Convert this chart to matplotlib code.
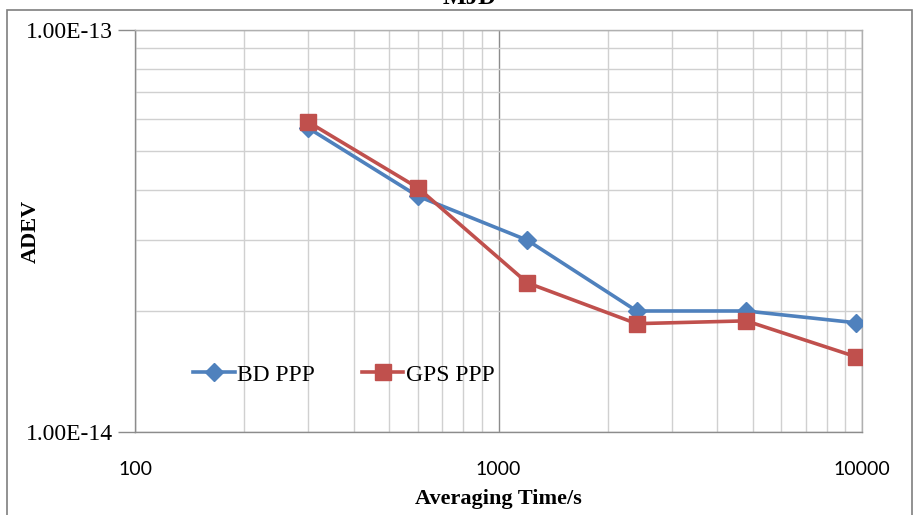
import matplotlib
matplotlib.use("Agg")
import matplotlib.pyplot as plt
from matplotlib.ticker import LogLocator, NullFormatter, FixedLocator
from matplotlib.patches import Rectangle

tau = [300, 600, 1200, 2400, 4800, 9600]
bd_ppp = [5.7e-14, 3.86e-14, 3.0e-14, 2.0e-14, 2.0e-14, 1.87e-14]
gps_ppp = [5.9e-14, 4.05e-14, 2.35e-14, 1.86e-14, 1.89e-14, 1.54e-14]
x_ticks = [100, 1000, 10000]
x_tick_labels = ["100", "1000", "10000"]
y_ticks = [1e-14, 1e-13]
y_tick_labels = ["1.00E-14", "1.00E-13"]

serif = ["Liberation Serif", "DejaVu Serif"]

fig = plt.figure(figsize=(9.16, 5.15), dpi=100)
ax = fig.add_axes([135/916, 1-432/515, (862-135)/916, (432-30)/515])

ax.set_xscale("log")
ax.set_yscale("log")
ax.set_xlim(100, 10000)
ax.set_ylim(1e-14, 1e-13)

# grid
ax.xaxis.set_major_locator(FixedLocator(x_ticks))
ax.xaxis.set_minor_locator(LogLocator(base=10, subs=range(2, 10), numticks=20))
ax.yaxis.set_major_locator(FixedLocator(y_ticks))
ax.yaxis.set_minor_locator(LogLocator(base=10, subs=range(2, 10), numticks=20))
ax.xaxis.set_minor_formatter(NullFormatter())
ax.yaxis.set_minor_formatter(NullFormatter())
ax.grid(True, which="minor", color="#D0D0D0", linewidth=1.0)
ax.grid(True, which="major", axis="x", color="#8C8C8C", linewidth=1.0)
ax.grid(True, which="major", axis="y", color="#B0B0B0", linewidth=1.0)
ax.set_axisbelow(True)

ax.set_xticks(x_ticks)
ax.set_xticklabels(x_tick_labels, family=["Lato", "DejaVu Sans"], fontsize=14)
ax.set_yticks(y_ticks)
ax.set_yticklabels(y_tick_labels, family=serif, fontsize=17)
ax.tick_params(axis="x", which="both", length=0, pad=21)
ax.tick_params(axis="y", which="major", length=12, width=1, color="#8C8C8C", pad=4, direction="out")
ax.tick_params(axis="y", which="minor", length=0)

for s in ["left", "bottom", "top", "right"]:
    ax.spines[s].set_color("#8C8C8C")
    ax.spines[s].set_linewidth(1.0)
ax.spines["top"].set_color("#B0B0B0")
ax.spines["right"].set_color("#B0B0B0")

ax.plot(tau, bd_ppp, color="#4F81BD", linewidth=2.6, marker="D", markersize=9,
        markerfacecolor="#4F81BD", markeredgecolor="#4F81BD", label="BD PPP", zorder=3)
ax.plot(tau, gps_ppp, color="#C0504D", linewidth=2.6, marker="s", markersize=11,
        markerfacecolor="#C0504D", markeredgecolor="#C0504D", label="GPS PPP", zorder=4)

ax.set_xlabel("Averaging Time/s", family=serif, fontsize=16, fontweight="bold")
ax.set_ylabel("ADEV", family=serif, fontsize=16, fontweight="bold")
ax.yaxis.set_label_coords(-0.129, 0.5)
ax.xaxis.set_label_coords(0.5, -0.142)

leg = ax.legend(loc="center left", bbox_to_anchor=(0.064, 0.142), ncol=2, frameon=False,
                prop={"family": serif, "size": 17}, handlelength=1.75, handletextpad=0.1,
                columnspacing=2.0, borderpad=0)

fig.text(470/916, 1 - 9/515, "MJD", ha="center", va="bottom", family=serif,
         fontsize=18, fontweight="bold")

fig.patches.append(Rectangle((7/916, -0.05), (912-7)/916, 1.05 - 10/515,
                             transform=fig.transFigure, fill=False,
                             edgecolor="#7F7F7F", linewidth=1.2))

fig.savefig("out.png", dpi=100)
